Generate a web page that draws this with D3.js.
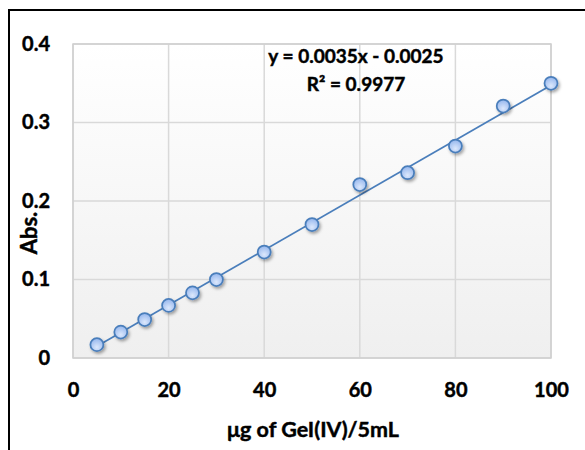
<!DOCTYPE html>
<html><head><meta charset="utf-8">
<script src="https://cdn.jsdelivr.net/npm/d3@7"></script>
<style>body{margin:0;background:#fff;} svg{display:block;font-family:Lato, "Open Sans", sans-serif;}</style>
</head><body>
<svg id="c" width="585" height="450"></svg>
<script>
const concentrations = [5,10,15,20,25,30,40,50,60,70,80,90,100];
const absorbance = [0.017,0.033,0.049,0.067,0.083,0.100,0.135,0.170,0.221,0.236,0.270,0.321,0.350];
const xTicks = [0,20,40,60,80,100];
const yTicks = [0,0.1,0.2,0.3,0.4];
const slope = 0.0035, intercept = -0.0025;
const eqLines = ["y = 0.0035x - 0.0025", "R² = 0.9977"];

const svg = d3.select("#c");
const L=73, R=551, T=44, B=358;
const x = d3.scaleLinear().domain([0,100]).range([L,R]);
const y = d3.scaleLinear().domain([0,0.4]).range([B,T]);

const defs = svg.append("defs");
const bg = defs.append("linearGradient").attr("id","bg").attr("x1",0).attr("y1",0).attr("x2",0).attr("y2",1);
bg.append("stop").attr("offset","0%").attr("stop-color","#ffffff");
bg.append("stop").attr("offset","100%").attr("stop-color","#efefef");
const mg = defs.append("radialGradient").attr("id","mk").attr("cx","50%").attr("cy","70%").attr("r","60%");
mg.append("stop").attr("offset","0%").attr("stop-color","#dce8fc");
mg.append("stop").attr("offset","100%").attr("stop-color","#9dbcef");
const f = defs.append("filter").attr("id","sh").attr("x","-50%").attr("y","-50%").attr("width","200%").attr("height","200%");
f.append("feDropShadow").attr("dx",1.5).attr("dy",2).attr("stdDeviation",1.5).attr("flood-color","#000").attr("flood-opacity",0.35);

// outer frame (left and top)
svg.append("path").attr("d","M9,450 V10 H585").attr("fill","none").attr("stroke","#000").attr("stroke-width",2);

svg.append("rect").attr("x",L).attr("y",T).attr("width",R-L).attr("height",B-T).attr("fill","url(#bg)");

// gridlines
svg.append("g").selectAll("line").data(xTicks).join("line")
  .attr("x1",d=>x(d)).attr("x2",d=>x(d)).attr("y1",T).attr("y2",B)
  .attr("stroke","#d9d9d9").attr("stroke-width",1.5);
svg.append("g").selectAll("line").data(yTicks).join("line")
  .attr("x1",L).attr("x2",R).attr("y1",d=>y(d)).attr("y2",d=>y(d))
  .attr("stroke","#d9d9d9").attr("stroke-width",1.5);
svg.append("rect").attr("x",L).attr("y",T).attr("width",R-L).attr("height",B-T)
  .attr("fill","none").attr("stroke","#cfcfcf").attr("stroke-width",1.5);

const boldText = sel => sel.attr("font-family","Lato, sans-serif").attr("font-weight","bold")
  .attr("fill","#000").attr("stroke","#000").attr("stroke-width",0.45);

// axes labels via d3 axes
const xAxis = svg.append("g").attr("transform",`translate(0,${B})`)
  .call(d3.axisBottom(x).tickValues(xTicks).tickSize(0).tickPadding(25).tickFormat(d3.format("d")));
const yAxis = svg.append("g").attr("transform",`translate(${L},0)`)
  .call(d3.axisLeft(y).tickValues(yTicks).tickSize(0).tickPadding(23).tickFormat(d=>d===0?"0":d3.format(".1f")(d)));
[xAxis,yAxis].forEach(g=>{g.select(".domain").remove();
  g.selectAll("text").call(boldText).attr("font-size",20);});

// trendline
const xs = d3.extent(concentrations);
svg.append("line").attr("x1",x(xs[0])).attr("y1",y(slope*xs[0]+intercept))
  .attr("x2",x(xs[1])).attr("y2",y(slope*xs[1]+intercept))
  .attr("stroke","#4a7ebb").attr("stroke-width",1.75);

// markers
svg.append("g").selectAll("circle").data(concentrations).join("circle")
  .attr("cx",d=>x(d)).attr("cy",(d,i)=>y(absorbance[i])).attr("r",6.5)
  .attr("fill","url(#mk)").attr("stroke","#4a7ebb").attr("stroke-width",1.75).attr("filter","url(#sh)");

// equation
svg.append("text").attr("x",356).attr("y",63).attr("text-anchor","middle")
  .call(boldText).attr("font-size",19).text(eqLines[0]);
svg.append("text").attr("x",356).attr("y",91).attr("text-anchor","middle")
  .call(boldText).attr("font-size",19).text(eqLines[1]);

// axis titles
svg.append("text").attr("x",313).attr("y",437).attr("text-anchor","middle")
  .call(boldText).attr("font-size",21.5).text("μg of GeI(IV)/5mL");
svg.append("text").attr("transform","translate(37,233) rotate(-90)").attr("text-anchor","middle")
  .call(boldText).attr("font-size",22).text("Abs.");
</script>
</body></html>
